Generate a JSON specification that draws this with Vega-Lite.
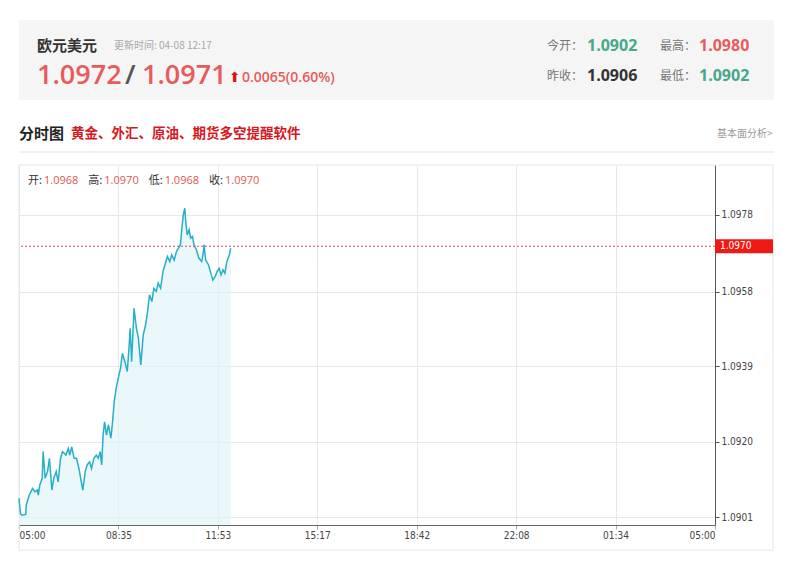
{
  "$schema": "https://vega.github.io/schema/vega-lite/v6.json",
  "background": "white",
  "padding": {"left": 16, "top": 20, "right": 5, "bottom": 5},
  "spacing": 0,
  "bounds": "flush",
  "config": {"font": "Noto Sans CJK SC"},
  "datasets": {
    "header": [
      {"key": "name", "line": "top", "tone": "dark", "text": "欧元美元"},
      {"key": "time", "line": "top", "tone": "muted", "text": "更新时间: 04-08 12:17"},
      {"key": "bid", "line": "bottom", "tone": "up", "text": "1.0972"},
      {"key": "slash", "line": "bottom", "tone": "slash", "text": "/"},
      {"key": "ask", "line": "bottom", "tone": "up", "text": "1.0971"},
      {"key": "arrow", "line": "bottom", "tone": "arrow", "text": "⬆"},
      {"key": "chg", "line": "bottom", "tone": "up", "text": "0.0065(0.60%)"},
      {"key": "lab1", "line": "top", "tone": "label", "text": "今开："},
      {"key": "lab1", "line": "bottom", "tone": "label", "text": "昨收："},
      {"key": "val1", "line": "top", "tone": "down", "text": "1.0902"},
      {"key": "val1", "line": "bottom", "tone": "dark", "text": "1.0906"},
      {"key": "lab2", "line": "top", "tone": "label", "text": "最高："},
      {"key": "lab2", "line": "bottom", "tone": "label", "text": "最低："},
      {"key": "val2", "line": "top", "tone": "up", "text": "1.0980"},
      {"key": "val2", "line": "bottom", "tone": "down", "text": "1.0902"}
    ],
    "titlebar": [
      {"key": "title", "line": "text", "text": "分时图"},
      {"key": "promo", "line": "text", "text": "黄金、外汇、原油、期货多空提醒软件"},
      {"key": "link", "line": "text", "text": "基本面分析>"},
      {"key": "rule", "line": "rule", "text": ""}
    ],
    "ohlc": [
      {"item": "开", "label": "开:", "value": "1.0968"},
      {"item": "高", "label": "高:", "value": "1.0970"},
      {"item": "低", "label": "低:", "value": "1.0968"},
      {"item": "收", "label": "收:", "value": "1.0970"}
    ],
    "last": [{"price": 1.0970, "label": "1.0970"}],
    "series": [
      {"t": 0, "price": 1.09058}, {"t": 3, "price": 1.09019}, {"t": 6, "price": 1.09015}, {"t": 14, "price": 1.09017},
      {"t": 15, "price": 1.09041}, {"t": 21, "price": 1.09066}, {"t": 28, "price": 1.09083}, {"t": 33, "price": 1.09075},
      {"t": 38, "price": 1.09079}, {"t": 40, "price": 1.09066}, {"t": 43, "price": 1.09092}, {"t": 48, "price": 1.09109},
      {"t": 50, "price": 1.09177}, {"t": 54, "price": 1.09109}, {"t": 59, "price": 1.09126}, {"t": 63, "price": 1.09160},
      {"t": 68, "price": 1.09079}, {"t": 72, "price": 1.09109}, {"t": 77, "price": 1.09126}, {"t": 81, "price": 1.09100},
      {"t": 86, "price": 1.09160}, {"t": 90, "price": 1.09177}, {"t": 97, "price": 1.09168}, {"t": 102, "price": 1.09185},
      {"t": 105, "price": 1.09168}, {"t": 109, "price": 1.09189}, {"t": 114, "price": 1.09160}, {"t": 119, "price": 1.09160},
      {"t": 124, "price": 1.09134}, {"t": 130, "price": 1.09092}, {"t": 132, "price": 1.09079}, {"t": 137, "price": 1.09126},
      {"t": 141, "price": 1.09143}, {"t": 146, "price": 1.09151}, {"t": 150, "price": 1.09134}, {"t": 155, "price": 1.09160},
      {"t": 160, "price": 1.09168}, {"t": 164, "price": 1.09160}, {"t": 168, "price": 1.09177}, {"t": 171, "price": 1.09143},
      {"t": 174, "price": 1.09219}, {"t": 177, "price": 1.09253}, {"t": 181, "price": 1.09219}, {"t": 185, "price": 1.09245},
      {"t": 190, "price": 1.09211}, {"t": 193, "price": 1.09245}, {"t": 197, "price": 1.09304}, {"t": 201, "price": 1.09338},
      {"t": 206, "price": 1.09368}, {"t": 210, "price": 1.09389}, {"t": 214, "price": 1.09427}, {"t": 219, "price": 1.09406},
      {"t": 224, "price": 1.09381}, {"t": 228, "price": 1.09449}, {"t": 230, "price": 1.09491}, {"t": 233, "price": 1.09406},
      {"t": 238, "price": 1.09542}, {"t": 243, "price": 1.09491}, {"t": 247, "price": 1.09466}, {"t": 252, "price": 1.09398},
      {"t": 257, "price": 1.09474}, {"t": 262, "price": 1.09500}, {"t": 266, "price": 1.09534}, {"t": 270, "price": 1.09576},
      {"t": 275, "price": 1.09559}, {"t": 279, "price": 1.09593}, {"t": 284, "price": 1.09585}, {"t": 288, "price": 1.09606},
      {"t": 293, "price": 1.09593}, {"t": 298, "price": 1.09636}, {"t": 302, "price": 1.09653}, {"t": 307, "price": 1.09674},
      {"t": 312, "price": 1.09661}, {"t": 316, "price": 1.09678}, {"t": 321, "price": 1.09665}, {"t": 326, "price": 1.09687},
      {"t": 330, "price": 1.09695}, {"t": 334, "price": 1.09704}, {"t": 337, "price": 1.09746}, {"t": 340, "price": 1.09780},
      {"t": 343, "price": 1.09797}, {"t": 345, "price": 1.09763}, {"t": 348, "price": 1.09729}, {"t": 352, "price": 1.09742},
      {"t": 355, "price": 1.09721}, {"t": 359, "price": 1.09725}, {"t": 362, "price": 1.09704}, {"t": 367, "price": 1.09691},
      {"t": 372, "price": 1.09670}, {"t": 378, "price": 1.09661}, {"t": 381, "price": 1.09682}, {"t": 383, "price": 1.09704},
      {"t": 386, "price": 1.09665}, {"t": 392, "price": 1.09653}, {"t": 397, "price": 1.09631}, {"t": 401, "price": 1.09614},
      {"t": 406, "price": 1.09623}, {"t": 410, "price": 1.09636}, {"t": 414, "price": 1.09644}, {"t": 418, "price": 1.09627},
      {"t": 422, "price": 1.09640}, {"t": 426, "price": 1.09631}, {"t": 430, "price": 1.09661}, {"t": 435, "price": 1.09678},
      {"t": 438, "price": 1.09695}
    ]
  },
  "vconcat": [
    {
      "width": 755,
      "height": 80,
      "view": {"fill": "#f5f5f5", "stroke": null},
      "data": {"name": "header"},
      "encoding": {
        "y": {"field": "line", "type": "nominal", "scale": {"type": "point", "domain": ["top", "bottom"], "range": [26, 56], "padding": 0}, "axis": null},
        "color": {"field": "tone", "type": "nominal", "scale": {"domain": ["dark", "muted", "label", "up", "down", "slash", "arrow"], "range": ["#333333", "#a8a8a8", "#777777", "#e65c5c", "#45a98b", "#555555", "#e01010"]}, "legend": null},
        "text": {"field": "text"}
      },
      "layer": [
        {"transform": [{"filter": "datum.key == 'name'"}], "mark": {"type": "text", "align": "left", "baseline": "middle", "fontSize": 15, "fontWeight": "bold"}, "encoding": {"x": {"datum": 18, "type": "quantitative", "scale": {"domain": [0, 755], "nice": false, "zero": false}, "axis": null}}},
        {"transform": [{"filter": "datum.key == 'time'"}], "mark": {"type": "text", "align": "left", "baseline": "middle", "fontSize": 10}, "encoding": {"x": {"datum": 95, "type": "quantitative", "scale": {"domain": [0, 755], "nice": false, "zero": false}, "axis": null}}},
        {"transform": [{"filter": "datum.key == 'bid'"}], "mark": {"type": "text", "align": "left", "baseline": "middle", "fontSize": 27, "fontWeight": 600, "font": "Open Sans"}, "encoding": {"x": {"datum": 18, "type": "quantitative", "scale": {"domain": [0, 755], "nice": false, "zero": false}, "axis": null}}},
        {"transform": [{"filter": "datum.key == 'slash'"}], "mark": {"type": "text", "align": "left", "baseline": "middle", "fontSize": 27, "fontWeight": 600, "font": "Open Sans"}, "encoding": {"x": {"datum": 106, "type": "quantitative", "scale": {"domain": [0, 755], "nice": false, "zero": false}, "axis": null}}},
        {"transform": [{"filter": "datum.key == 'ask'"}], "mark": {"type": "text", "align": "left", "baseline": "middle", "fontSize": 27, "fontWeight": 600, "font": "Open Sans"}, "encoding": {"x": {"datum": 123, "type": "quantitative", "scale": {"domain": [0, 755], "nice": false, "zero": false}, "axis": null}}},
        {"transform": [{"filter": "datum.key == 'arrow'"}], "mark": {"type": "text", "align": "left", "baseline": "middle", "fontSize": 14, "font": "DejaVu Sans", "dy": 2}, "encoding": {"x": {"datum": 210, "type": "quantitative", "scale": {"domain": [0, 755], "nice": false, "zero": false}, "axis": null}}},
        {"transform": [{"filter": "datum.key == 'chg'"}], "mark": {"type": "text", "align": "left", "baseline": "middle", "fontSize": 14, "fontWeight": 600, "font": "Open Sans", "dy": 2}, "encoding": {"x": {"datum": 223, "type": "quantitative", "scale": {"domain": [0, 755], "nice": false, "zero": false}, "axis": null}}},
        {"transform": [{"filter": "datum.key == 'lab1'"}], "mark": {"type": "text", "align": "left", "baseline": "middle", "fontSize": 12}, "encoding": {"x": {"datum": 528, "type": "quantitative", "scale": {"domain": [0, 755], "nice": false, "zero": false}, "axis": null}}},
        {"transform": [{"filter": "datum.key == 'val1'"}], "mark": {"type": "text", "align": "left", "baseline": "middle", "fontSize": 16, "fontWeight": "bold", "font": "Open Sans"}, "encoding": {"x": {"datum": 568, "type": "quantitative", "scale": {"domain": [0, 755], "nice": false, "zero": false}, "axis": null}}},
        {"transform": [{"filter": "datum.key == 'lab2'"}], "mark": {"type": "text", "align": "left", "baseline": "middle", "fontSize": 12}, "encoding": {"x": {"datum": 641, "type": "quantitative", "scale": {"domain": [0, 755], "nice": false, "zero": false}, "axis": null}}},
        {"transform": [{"filter": "datum.key == 'val2'"}], "mark": {"type": "text", "align": "left", "baseline": "middle", "fontSize": 16, "fontWeight": "bold", "font": "Open Sans"}, "encoding": {"x": {"datum": 680, "type": "quantitative", "scale": {"domain": [0, 755], "nice": false, "zero": false}, "axis": null}}}
      ]
    },
    {
      "width": 755,
      "height": 65,
      "view": {"stroke": null},
      "data": {"name": "titlebar"},
      "encoding": {
        "y": {"field": "line", "type": "nominal", "scale": {"type": "point", "domain": ["text", "rule"], "range": [34, 52], "padding": 0}, "axis": null}
      },
      "layer": [
        {"transform": [{"filter": "datum.key == 'title'"}], "mark": {"type": "text", "align": "left", "baseline": "middle", "fontSize": 15, "fontWeight": "bold", "color": "#222222"}, "encoding": {"x": {"datum": 0, "type": "quantitative", "scale": {"domain": [0, 755], "nice": false, "zero": false}, "axis": null}, "text": {"field": "text"}}},
        {"transform": [{"filter": "datum.key == 'promo'"}], "mark": {"type": "text", "align": "left", "baseline": "middle", "fontSize": 13.5, "fontWeight": "bold", "color": "#d8161d"}, "encoding": {"x": {"datum": 52, "type": "quantitative", "scale": {"domain": [0, 755], "nice": false, "zero": false}, "axis": null}, "text": {"field": "text"}}},
        {"transform": [{"filter": "datum.key == 'link'"}], "mark": {"type": "text", "align": "left", "baseline": "middle", "fontSize": 10, "color": "#9a9a9a"}, "encoding": {"x": {"datum": 698, "type": "quantitative", "scale": {"domain": [0, 755], "nice": false, "zero": false}, "axis": null}, "text": {"field": "text"}}},
        {"transform": [{"filter": "datum.key == 'rule'"}], "mark": {"type": "rule", "color": "#e3e3e3", "strokeWidth": 1}, "encoding": {}}
      ]
    },
    {
      "width": 696,
      "height": 360,
      "view": {"stroke": null},
      "layer": [
        {
          "layer": [
            {"data": {"name": "last"}, "mark": {"type": "rect", "fill": null, "stroke": "#e6e6e6", "strokeWidth": 1},
              "encoding": {"x": {"datum": 0, "type": "quantitative"}, "x2": {"datum": 1560}, "y": {"datum": 1.08926, "type": "quantitative"}, "y2": {"datum": 1.09907}}},
            {"data": {"name": "series"}, "mark": {"type": "area", "color": "#dff3f9", "opacity": 0.65, "clip": true},
              "encoding": {
                "x": {"field": "t", "type": "quantitative", "scale": {"domain": [0, 1440], "nice": false, "zero": false},
                  "axis": {"orient": "bottom", "title": null, "values": [0, 205.714, 411.429, 617.143, 822.857, 1028.571, 1234.286, 1440],
                    "labelExpr": "['05:00','08:35','11:53','15:17','18:42','22:08','01:34','05:00'][round(datum.value/205.714)]",
                    "grid": true, "gridColor": "#e8e8e8", "domainColor": "#666666", "tickColor": "#aaaaaa", "tickSize": 4,
                    "labelFlush": true, "labelColor": "#444444", "labelFont": "DejaVu Sans Condensed, Liberation Sans", "labelFontSize": 10, "labelPadding": 1}},
                "y": {"field": "price", "type": "quantitative", "scale": {"domain": [1.0899, 1.09907], "nice": false, "zero": false},
                  "axis": {"orient": "right", "title": null, "values": [1.0901, 1.09202, 1.09394, 1.09584, 1.0978], "format": ".4f",
                    "grid": true, "gridColor": "#e8e8e8", "domainColor": "#555555", "tickColor": "#555555", "tickSize": 4,
                    "labelColor": "#444444", "labelFont": "DejaVu Sans Condensed, Liberation Sans", "labelFontSize": 10, "labelPadding": 2}}
              }},
            {"data": {"name": "series"}, "mark": {"type": "line", "color": "#25b0c8", "strokeWidth": 1.5},
              "encoding": {"x": {"field": "t", "type": "quantitative"}, "y": {"field": "price", "type": "quantitative"}}},
            {"data": {"name": "last"}, "mark": {"type": "rule", "color": "#e5484d", "strokeDash": [2, 2], "strokeWidth": 1},
              "encoding": {"y": {"field": "price", "type": "quantitative"}}},
            {"data": {"name": "last"}, "mark": {"type": "rect", "color": "#ee1a14"},
              "encoding": {"x": {"datum": 1440, "type": "quantitative"}, "x2": {"datum": 1560}, "y": {"datum": 1.09718, "type": "quantitative"}, "y2": {"datum": 1.09682}}},
            {"data": {"name": "last"}, "mark": {"type": "text", "color": "white", "align": "left", "baseline": "middle", "fontSize": 10, "font": "DejaVu Sans Condensed, Liberation Sans", "dx": 5},
              "encoding": {"x": {"datum": 1440, "type": "quantitative"}, "y": {"field": "price", "type": "quantitative"}, "text": {"field": "label"}}}
          ]
        },
        {
          "data": {"name": "ohlc"},
          "encoding": {
            "x": {"field": "item", "type": "nominal", "scale": {"type": "point", "domain": ["开", "高", "低", "收"], "range": [9, 190], "padding": 0}, "axis": null},
            "y": {"datum": 1.09867, "type": "quantitative"}
          },
          "layer": [
            {"mark": {"type": "text", "align": "left", "baseline": "middle", "fontSize": 11, "color": "#333333"}, "encoding": {"text": {"field": "label"}}},
            {"mark": {"type": "text", "align": "left", "baseline": "middle", "fontSize": 11, "color": "#e2574f", "font": "Open Sans", "dx": 16}, "encoding": {"text": {"field": "value"}}}
          ]
        }
      ],
      "resolve": {"scale": {"x": "independent"}}
    }
  ]
}
